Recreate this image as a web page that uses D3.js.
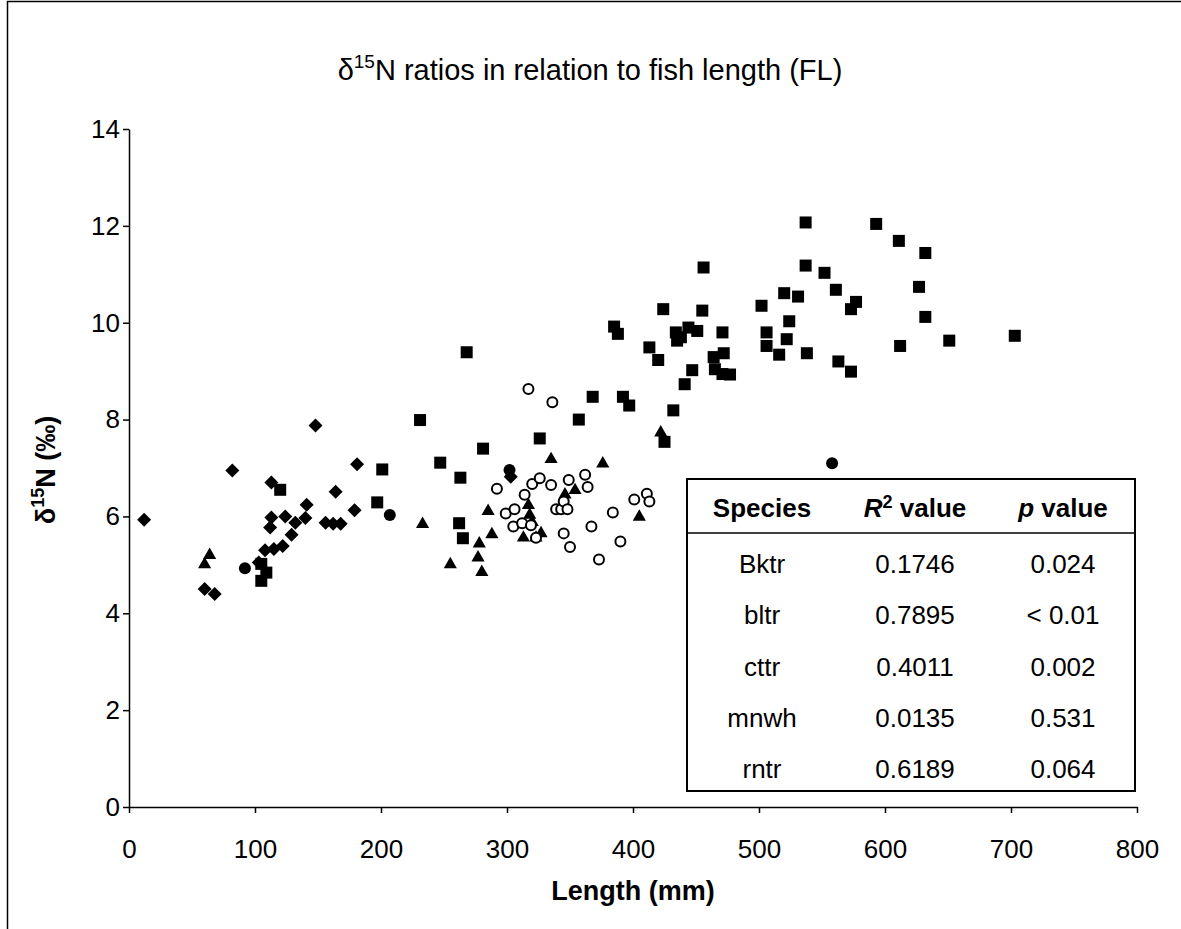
<!DOCTYPE html>
<html><head><meta charset="utf-8">
<script src="https://cdnjs.cloudflare.com/ajax/libs/d3/7.8.5/d3.min.js"></script>
<style>body{margin:0;background:#fff}svg{display:block}</style>
</head><body>
<script>
// ---- data (Length mm, d15N permil) ----
const bktr = [[12,5.93],[60,4.5],[68,4.4],[82,6.95],[103,5.05],[108,5.3],[113,6.7],[113,5.98],[112,5.77],[115,5.33],[122,5.39],[124,6.0],[129,5.62],[132,5.87],[140,5.97],[141,6.24],[148,7.88],[156,5.87],[162,5.85],[168,5.85],[164,6.51],[179,6.13],[181,7.08],[303,6.82]];
const bltr = [[105,5.02],[109,4.84],[105,4.67],[120,6.55],[197,6.29],[201,6.97],[231,7.99],[247,7.11],[262,5.86],[265,5.55],[263,6.8],[268,9.39],[281,7.4],[326,7.61],[357,8.0],[368,8.47],[385,9.92],[388,9.77],[392,8.47],[397,8.29],[413,9.49],[420,9.23],[424,10.28],[425,7.54],[432,8.19],[434,9.8],[435,9.63],[438,9.7],[441,8.73],[444,9.9],[447,9.02],[451,9.83],[455,10.25],[456,11.14],[464,9.29],[465,9.04],[471,9.8],[471,8.94],[472,9.37],[477,8.93],[502,10.35],[506,9.8],[506,9.52],[516,9.34],[520,10.61],[522,9.66],[524,10.03],[531,10.54],[537,12.07],[537,11.18],[538,9.37],[552,11.03],[561,10.68],[563,9.2],[573,10.28],[573,8.99],[577,10.43],[593,12.04],[611,11.69],[612,9.52],[627,10.74],[632,11.44],[632,10.12],[651,9.63],[703,9.73]];
const cttr = [[60,5.03],[64,5.22],[233,5.86],[255,5.03],[277,5.17],[278,5.46],[280,4.87],[285,6.13],[288,5.65],[313,5.58],[317,6.25],[318,6.05],[320,5.9],[323,5.58],[327,5.67],[335,7.2],[346,6.47],[354,6.56],[376,7.11],[405,6.01],[422,7.75]];
const mnwh = [[292,6.57],[299,6.06],[305,5.79],[306,6.15],[312,5.86],[314,6.45],[317,8.63],[319,5.82],[320,6.67],[323,5.56],[326,6.79],[335,6.65],[336,8.36],[339,6.15],[343,6.15],[345,6.31],[345,5.65],[348,6.15],[349,6.75],[350,5.37],[362,6.86],[364,6.61],[367,5.79],[373,5.11],[384,6.08],[390,5.48],[401,6.35],[411,6.47],[413,6.31]];
const rntr = [[92,4.93],[207,6.03],[302,6.96],[558,7.1]];

const xTicks = [0,100,200,300,400,500,600,700,800];
const yTicks = [0,2,4,6,8,10,12,14];

const species = ["Bktr","bltr","cttr","mnwh","rntr"];
const r2Values = ["0.1746","0.7895","0.4011","0.0135","0.6189"];
const pValues = ["0.024","< 0.01","0.002","0.531","0.064"];

// ---- drawing ----
const W = 1181, H = 929;
const FONT = "'Liberation Sans', Arial, sans-serif";
const svg = d3.select("body").append("svg").attr("width", W).attr("height", H);

svg.append("rect").attr("x",7.5).attr("y",1.5).attr("width",W+10).attr("height",H+10)
  .attr("fill","#fff").attr("stroke","#000").attr("stroke-width",1.5);

const x = d3.scaleLinear().domain([0,800]).range([129,1137]);
const y = d3.scaleLinear().domain([0,14]).range([807,129]);

// title
const title = svg.append("text").attr("x",590).attr("y",80).attr("text-anchor","middle")
  .attr("font-family",FONT).attr("font-size",29).attr("fill","#000");
title.append("tspan").text("δ");
title.append("tspan").attr("dy",-12).attr("font-size",19).text("15");
title.append("tspan").attr("dy",12).text("N ratios in relation to fish length (FL)");

// axes
const xAxis = svg.append("g").attr("transform",`translate(0,${y(0)})`)
  .call(d3.axisBottom(x).tickValues(xTicks).tickSize(6).tickPadding(27).tickSizeOuter(0));
const yAxis = svg.append("g").attr("transform",`translate(${x(0)},0)`)
  .call(d3.axisLeft(y).tickValues(yTicks).tickSize(6).tickPadding(3).tickSizeOuter(0));
[xAxis,yAxis].forEach(g=>{
  g.selectAll("path,line").attr("stroke","#000").attr("stroke-width",1.5);
  g.selectAll("text").attr("font-family",FONT).attr("font-size",26).attr("fill","#000");
});

// axis titles
svg.append("text").attr("x",633).attr("y",900).attr("text-anchor","middle")
  .attr("font-family",FONT).attr("font-size",27).attr("font-weight","bold").text("Length (mm)");
const yt = svg.append("text").attr("transform","translate(55,470) rotate(-90)").attr("text-anchor","middle")
  .attr("font-family",FONT).attr("font-size",27).attr("font-weight","bold");
yt.append("tspan").text("δ");
yt.append("tspan").attr("dy",-11).attr("font-size",18).text("15");
yt.append("tspan").attr("dy",11).text("N (‰)");

// markers
const pts = svg.append("g");
pts.selectAll(".d").data(bktr).join("path")
  .attr("d", "M0,-7L7,0L0,7L-7,0Z")
  .attr("transform", d=>`translate(${x(d[0])},${y(d[1])})`)
  .attr("fill","#000");
pts.selectAll(".s").data(bltr).join("rect")
  .attr("x", d=>x(d[0])-6).attr("y", d=>y(d[1])-6).attr("width",12).attr("height",12).attr("fill","#000");
pts.selectAll(".t").data(cttr).join("path")
  .attr("d", d3.symbol(d3.symbolTriangle, 75))
  .attr("transform", d=>`translate(${x(d[0])},${y(d[1])+1})`).attr("fill","#000");
pts.selectAll(".o").data(mnwh).join("circle")
  .attr("cx", d=>x(d[0])).attr("cy", d=>y(d[1])).attr("r",5)
  .attr("fill","#fff").attr("stroke","#000").attr("stroke-width",2);
pts.selectAll(".c").data(rntr).join("circle")
  .attr("cx", d=>x(d[0])).attr("cy", d=>y(d[1])).attr("r",6).attr("fill","#000");

// table
const tb = {x0:687, x1:1135, y0:479, y1:791};
const tg = svg.append("g");
tg.append("rect").attr("x",tb.x0).attr("y",tb.y0).attr("width",tb.x1-tb.x0).attr("height",tb.y1-tb.y0)
  .attr("fill","#fff").attr("stroke","#000").attr("stroke-width",2);
tg.append("line").attr("x1",tb.x0).attr("x2",tb.x1).attr("y1",533).attr("y2",533)
  .attr("stroke","#000").attr("stroke-width",1.5);
const colX = [762, 915, 1063];
const hdrY = 517;
const TF = 26;
tg.append("text").attr("x",colX[0]).attr("y",hdrY).attr("text-anchor","middle")
  .attr("font-family",FONT).attr("font-size",TF).attr("font-weight","bold").text("Species");
const h2 = tg.append("text").attr("x",colX[1]).attr("y",hdrY).attr("text-anchor","middle")
  .attr("font-family",FONT).attr("font-size",TF).attr("font-weight","bold");
h2.append("tspan").attr("font-style","italic").text("R");
h2.append("tspan").attr("font-size",18).attr("dy",-9).text("2");
h2.append("tspan").attr("dy",9).text(" value");
const h3 = tg.append("text").attr("x",colX[2]).attr("y",hdrY).attr("text-anchor","middle")
  .attr("font-family",FONT).attr("font-size",TF).attr("font-weight","bold");
h3.append("tspan").attr("font-style","italic").text("p");
h3.append("tspan").text(" value");
const rowY = d3.scalePoint().domain(species).range([573,778]);
species.forEach((s,i)=>{
  [s, r2Values[i], pValues[i]].forEach((t,j)=>{
    tg.append("text").attr("x",colX[j]).attr("y",rowY(s)).attr("text-anchor","middle")
      .attr("font-family",FONT).attr("font-size",TF).attr("fill","#000").text(t);
  });
});
</script>
</body></html>
